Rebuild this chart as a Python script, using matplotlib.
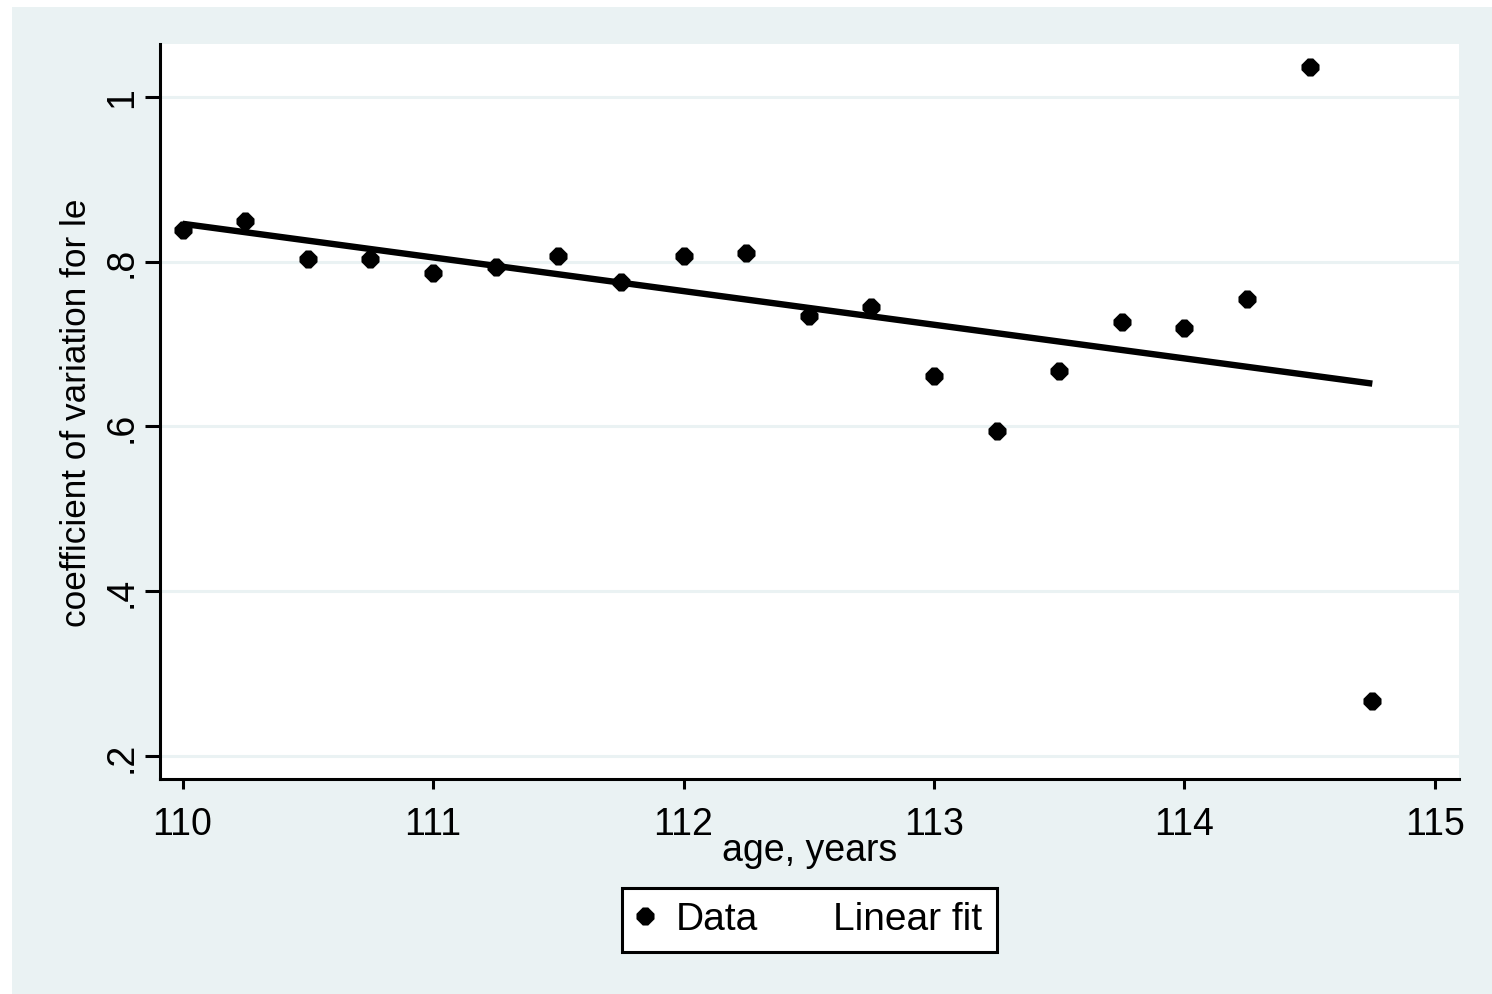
import numpy as np
import matplotlib
matplotlib.use("Agg")
import matplotlib.pyplot as plt
from matplotlib.lines import Line2D
from matplotlib.patches import Rectangle

# ---- data ----
age = [110.0, 110.25, 110.5, 110.75, 111.0, 111.25, 111.5, 111.75, 112.0, 112.25,
       112.5, 112.75, 113.0, 113.25, 113.5, 113.75, 114.0, 114.25, 114.5, 114.75]
cv = [0.838, 0.849, 0.803, 0.803, 0.786, 0.794, 0.807, 0.776, 0.807, 0.811,
      0.734, 0.745, 0.661, 0.595, 0.667, 0.727, 0.720, 0.755, 1.036, 0.267]
x_ticks = [110, 111, 112, 113, 114, 115]
x_tick_labels = ["110", "111", "112", "113", "114", "115"]
y_ticks = [0.2, 0.4, 0.6, 0.8, 1.0]
y_tick_labels = [".2", ".4", ".6", ".8", "1"]
legend_labels = ["Data", "Linear fit"]
x_title = "age, years"
y_title = "coefficient of variation for le"

# ---- styling ----
W, H = 1492, 995
bg = '#EAF2F3'
regular = ['Liberation Sans', 'DejaVu Sans']

fig = plt.figure(figsize=(W / 100, H / 100), dpi=100, facecolor='white')
fig.patches.append(Rectangle((12 / W, 0), 1 - 12 / W, (H - 8) / H,
                             transform=fig.transFigure, facecolor=bg,
                             edgecolor='none', zorder=-10))

ax = fig.add_axes([160 / W, (H - 780) / H, 1299 / W, 735 / H])
ax.set_facecolor('white')

marker = [(-0.3, 1), (0.3, 1), (1, 0.3), (1, -0.3), (0.3, -1),
          (-0.3, -1), (-1, -0.3), (-1, 0.3), (-0.3, 1)]

# linear fit from the data
slope, intercept = np.polyfit(age, cv, 1)
fit_x = np.array([min(age), max(age)])
fit_y = slope * fit_x + intercept

ax.plot(age, cv, linestyle='none', marker=marker, ms=13, mew=0,
        color='black', zorder=3)
ax.plot(fit_x, fit_y, color='black', lw=4.6, solid_capstyle='butt', zorder=4)

ax.set_xlim(109.910, 115.096)
ax.set_ylim(0.1721, 1.0643)

ax.set_xticks(x_ticks)
ax.set_xticklabels(x_tick_labels, fontsize=27, family=regular)
ax.set_yticks(y_ticks)
ax.set_yticklabels(y_tick_labels, rotation=90, va='center', fontsize=27,
                   family=regular)
ax.tick_params(axis='x', length=7.2, width=2.2, pad=12, color='black')
ax.tick_params(axis='y', length=10.8, width=2.2, pad=3.6, color='black')

ax.grid(axis='y', color=bg, lw=2.2)
ax.set_axisbelow(True)
for s in ['top', 'right']:
    ax.spines[s].set_visible(False)
for s in ['left', 'bottom']:
    ax.spines[s].set_linewidth(2.2)

ax.set_xlabel(x_title, fontsize=27, family=regular, va='baseline')
ax.xaxis.set_label_coords(0.5, -0.1100)
ax.set_ylabel(y_title, fontsize=25.3, family=regular, va='baseline')
ax.yaxis.set_label_coords(-0.0570, 0.5)

h1 = Line2D([], [], linestyle='none', marker=marker, ms=13, mew=0, color='black')
h2 = Line2D([], [], linestyle='none', color='black')
leg = fig.legend([h1, h2], legend_labels, loc='center',
                 bbox_to_anchor=(809.5 / W, 1 - 920.5 / H), ncol=2,
                 prop={'family': regular, 'size': 28},
                 frameon=True, fancybox=False, edgecolor='black',
                 facecolor='white', framealpha=1, borderpad=0.36,
                 handlelength=0.45, handletextpad=0.57, columnspacing=0.91)
leg.get_frame().set_linewidth(2.2)

fig.savefig('out.png', dpi=100, facecolor='white')
